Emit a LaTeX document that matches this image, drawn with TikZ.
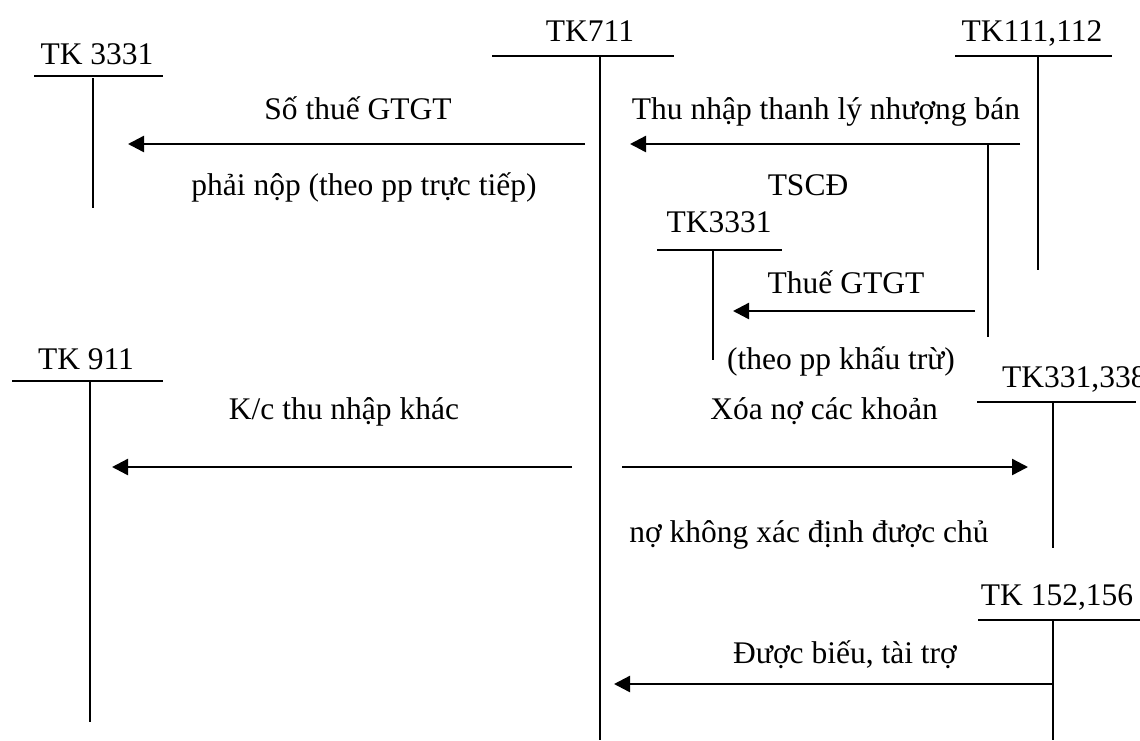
\documentclass[tikz,border=0pt]{standalone}
\usepackage{fontspec}
\setmainfont{Liberation Serif}
\usetikzlibrary{arrows.meta}
\begin{document}
\begin{tikzpicture}[x=1pt,y=-1pt,
  tline/.style={line width=2pt},
  flow/.style={line width=2.4pt,-{Triangle[length=16pt,width=16pt]}},
  lbl/.style={anchor=base,inner sep=0pt,font=\fontsize{31.5}{36}\selectfont}]
\useasboundingbox (0,0) rectangle (1140,740);

% ---- T-accounts: title, top bar, stem ----
% TK 3331 (left)
\node[lbl] (t3331a) at (97,64) {TK 3331};
\coordinate (a1l) at (34,76);  \coordinate (a1r) at (163,76);
\coordinate (a1t) at (93,78);  \coordinate (a1b) at (93,208);
\draw[tline] (a1l) -- (a1r); \draw[tline] (a1t) -- (a1b);

% TK711 (centre)
\node[lbl] (t711) at (590,41) {TK711};
\coordinate (a2l) at (492,56); \coordinate (a2r) at (674,56);
\coordinate (a2t) at (600,56); \coordinate (a2b) at (600,740);
\draw[tline] (a2l) -- (a2r); \draw[tline] (a2t) -- (a2b);

% TK111,112
\node[lbl] (t111) at (1032,41) {TK111,112};
\coordinate (a3l) at (955,56); \coordinate (a3r) at (1112,56);
\coordinate (a3t) at (1038,56); \coordinate (a3b) at (1038,270);
\draw[tline] (a3l) -- (a3r); \draw[tline] (a3t) -- (a3b);

% TK3331 (middle)
\node[lbl] (t3331b) at (719,232) {TK3331};
\coordinate (a4l) at (657,250); \coordinate (a4r) at (782,250);
\coordinate (a4t) at (713,250); \coordinate (a4b) at (713,360);
\draw[tline] (a4l) -- (a4r); \draw[tline] (a4t) -- (a4b);

% TK 911
\node[lbl] (t911) at (86,369) {TK 911};
\coordinate (a5l) at (12,381); \coordinate (a5r) at (163,381);
\coordinate (a5t) at (90,381); \coordinate (a5b) at (90,722);
\draw[tline] (a5l) -- (a5r); \draw[tline] (a5t) -- (a5b);

% TK331,338 (title runs past the right edge)
\node[lbl,anchor=base west] (t331) at (1002,387) {TK331,338};
\coordinate (a6l) at (977,402); \coordinate (a6r) at (1136,402);
\coordinate (a6t) at (1053,402); \coordinate (a6b) at (1053,548);
\draw[tline] (a6l) -- (a6r); \draw[tline] (a6t) -- (a6b);

% TK 152,156
\node[lbl] (t152) at (1057,605) {TK 152,156};
\coordinate (a7l) at (978,620); \coordinate (a7r) at (1140,620);
\coordinate (a7t) at (1053,620); \coordinate (a7b) at (1053,740);
\draw[tline] (a7l) -- (a7r); \draw[tline] (a7t) -- (a7b);

% ---- entries ----
% output VAT, direct method
\coordinate (f1s) at (585,144); \coordinate (f1e) at (128,144);
\draw[flow] (f1s) -- (f1e);
\node[lbl] (l1a) at (358,119) {Số thuế GTGT};
\node[lbl] (l1b) at (364,195) {phải nộp (theo pp trực tiếp)};

% proceeds from disposal of fixed assets
\coordinate (f2s) at (1020,144); \coordinate (f2e) at (630,144);
\draw[flow] (f2s) -- (f2e);
\node[lbl] (l2a) at (826,119) {Thu nhập thanh lý nhượng bán};
\node[lbl] (l2b) at (808,195) {TSCĐ};

% branch for deductible VAT
\coordinate (b1t) at (988,144); \coordinate (b1b) at (988,337);
\draw[tline] (b1t) -- (b1b);
\coordinate (f3s) at (975,311); \coordinate (f3e) at (733,311);
\draw[flow] (f3s) -- (f3e);
\node[lbl] (l3a) at (846,293) {Thuế GTGT};
\node[lbl] (l3b) at (841,369) {(theo pp khấu trừ)};

% closing to TK 911
\coordinate (f4s) at (572,467); \coordinate (f4e) at (112,467);
\draw[flow] (f4s) -- (f4e);
\node[lbl] (l4a) at (344,419) {K/c thu nhập khác};

% debts written off
\coordinate (f5s) at (622,467); \coordinate (f5e) at (1028,467);
\draw[flow] (f5s) -- (f5e);
\node[lbl] (l5a) at (824,419) {Xóa nợ các khoản};
\node[lbl] (l5b) at (809,542) {nợ không xác định được chủ};

% donations and grants
\coordinate (f6s) at (1053,684); \coordinate (f6e) at (614,684);
\draw[flow] (f6s) -- (f6e);
\node[lbl] (l6a) at (845,663) {Được biếu, tài trợ};
\end{tikzpicture}
\end{document}
